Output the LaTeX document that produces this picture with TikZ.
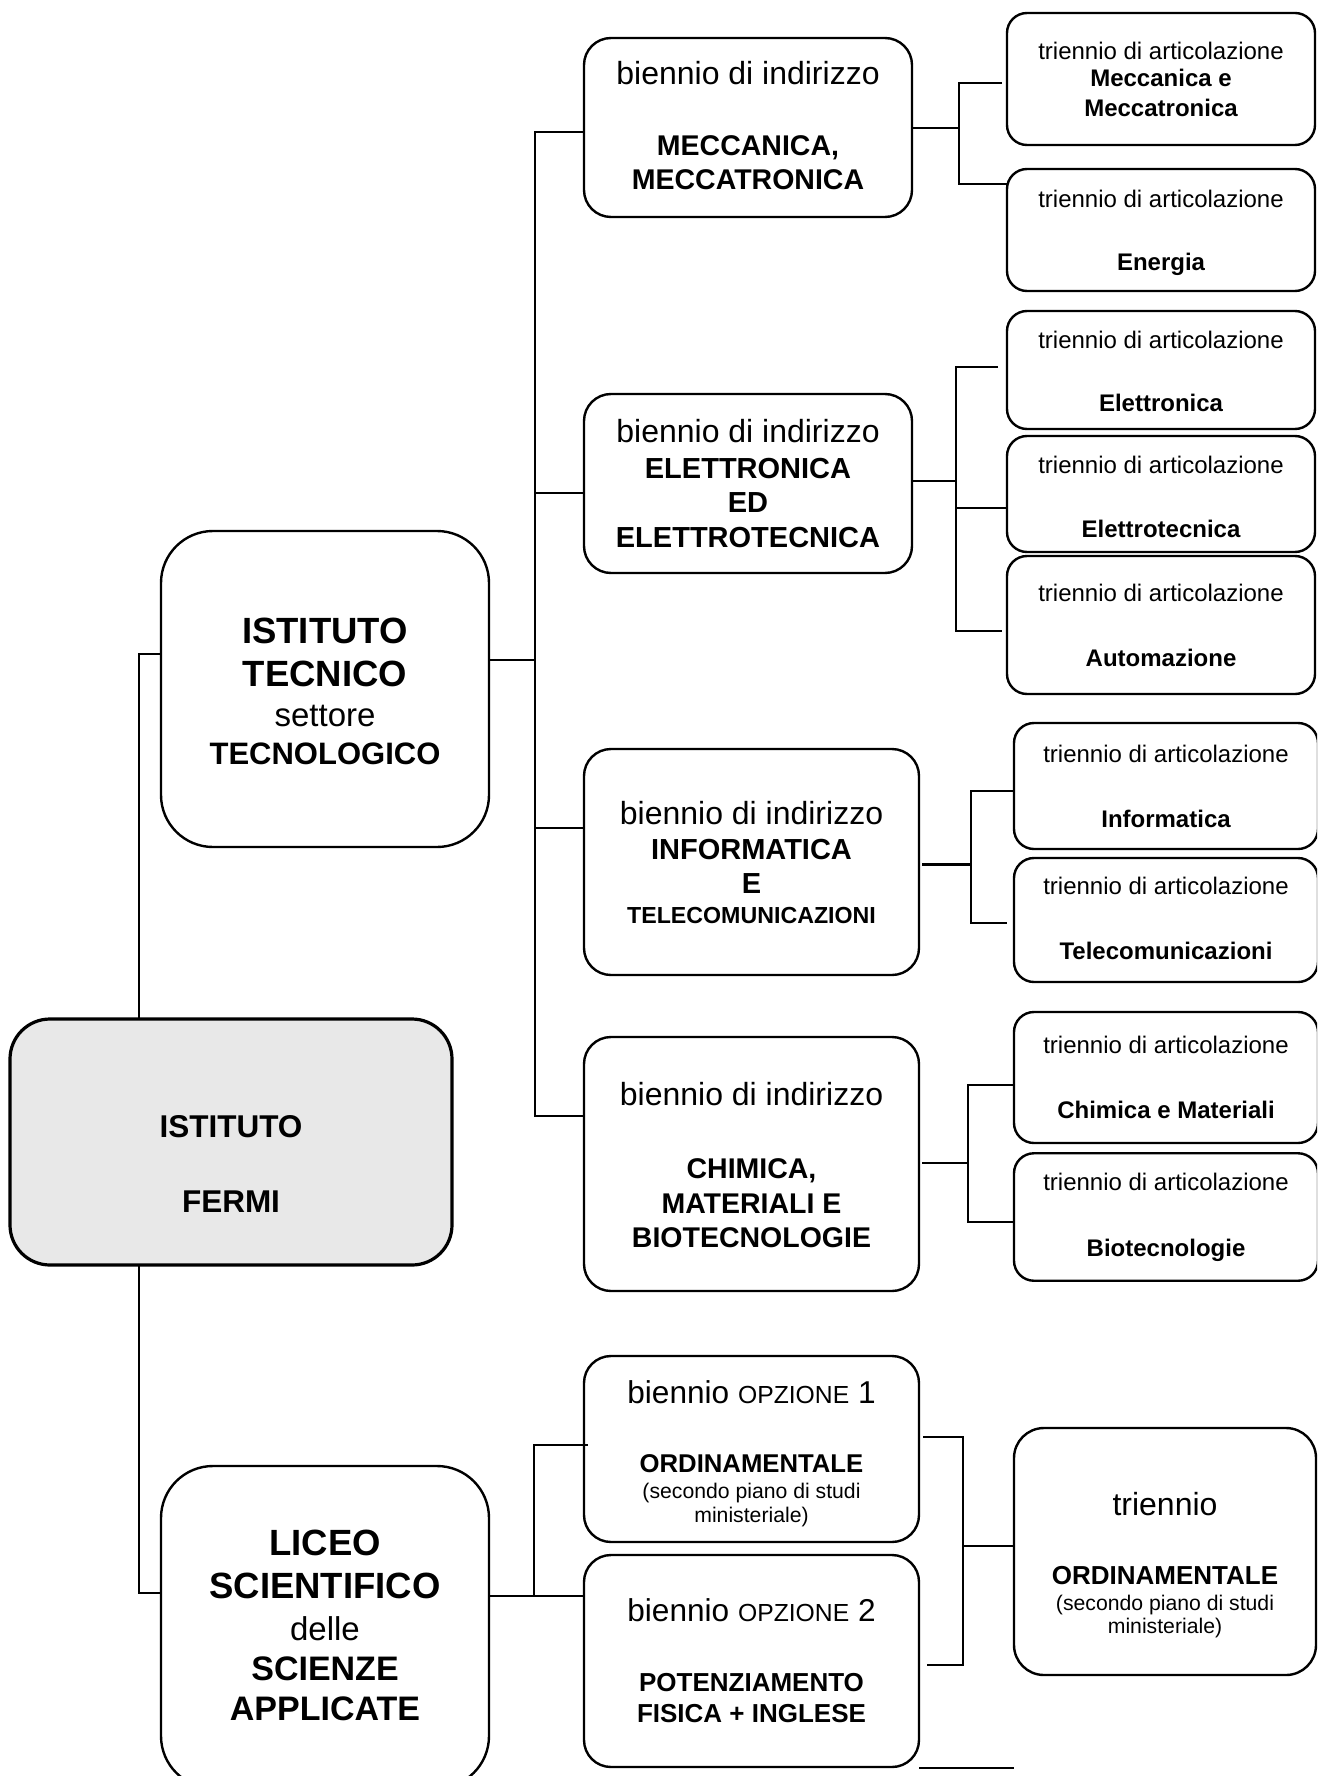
\documentclass[tikz,border=0pt]{standalone}
\usepackage{fontspec}
\setmainfont{Liberation Sans}
\newcommand{\fs}[1]{\fontsize{#1}{0pt}\selectfont}
% box text: width, height, first-baseline offset from top, content
\newcommand{\btxt}[4]{\parbox[t][#2pt][t]{#1pt}{\centering\baselineskip=0pt\lineskiplimit=-\maxdimen\leavevmode\rule{0pt}{#3pt}#4}}
\definecolor{fermifill}{RGB}{232,232,232}
\tikzset{
  box/.style={draw, line width=2.4pt, rounded corners=#1, inner sep=0pt, outer sep=0pt},
  conn/.style={line width=2pt},
}
\begin{document}
\begin{tikzpicture}[x=1pt,y=-1pt]
\fill[white] (0,0) rectangle (1317,1776);
\path[use as bounding box] (0,0) rectangle (1317,1776);
\clip (0,0) rectangle (1317,1776);

% main nodes
\node[box=40pt, fill=fermifill, line width=3.2pt] (fermi) at (231,1142)
  {\btxt{442}{246}{118}{\bfseries\fs{31.5}ISTITUTO\\[75pt]FERMI}};
\node[box=52pt] (it) at (325,689)
  {\btxt{328}{316}{112}{\bfseries\fs{36.5}ISTITUTO\\[43pt]TECNICO\\[40pt]{\mdseries\fs{33}settore}\\[38pt]\fs{31}TECNOLOGICO}};
\node[box=52pt] (ls) at (325,1627)
  {\btxt{328}{322}{89}{\bfseries\fs{36.5}LICEO\\[43pt]SCIENTIFICO\\[42pt]{\mdseries\fs{33}delle}\\[40pt]\fs{34}SCIENZE\\[40pt]APPLICATE}};

% bienni
\node[box=27pt] (mecc) at (748,127.5)
  {\btxt{328}{179}{47}{\fs{32}biennio di indirizzo\\[71pt]\bfseries\fs{28.5}MECCANICA,\\[34pt]MECCATRONICA}};
\node[box=27pt] (elettr) at (748,483.5)
  {\btxt{328}{179}{48}{\fs{32}biennio di indirizzo\\[36pt]\bfseries\fs{29}ELETTRONICA\\[34pt]ED\\[35pt]ELETTROTECNICA}};
\node[box=27pt] (info) at (751.5,862)
  {\btxt{335}{226}{75}{\fs{32}biennio di indirizzo\\[35pt]\bfseries\fs{29}INFORMATICA\\[34pt]E\\[30pt]\fs{23.2}TELECOMUNICAZIONI}};
\node[box=27pt] (chim) at (751.5,1164)
  {\btxt{335}{254}{68}{\fs{32}biennio di indirizzo\\[73pt]\bfseries\fs{28.5}CHIMICA,\\[35pt]MATERIALI E\\[34pt]BIOTECNOLOGIE}};
\node[box=27pt] (opz1) at (751.5,1449)
  {\btxt{335}{186}{47}{\fs{31.6}biennio {\fs{24.7}OPZIONE} 1\\[69pt]{\bfseries\fs{25.7}ORDINAMENTALE}\\[26pt]\fs{21.2}(secondo piano di studi\\[24pt]ministeriale)}};
\node[box=27pt] (opz2) at (751.5,1661)
  {\btxt{335}{212}{66}{\fs{31.6}biennio {\fs{24.7}OPZIONE} 2\\[70pt]\bfseries\fs{26}POTENZIAMENTO\\[31pt]FISICA + INGLESE}};

% trienni
\node[box=30pt] (trord) at (1165,1551.5)
  {\btxt{302}{247}{87}{\fs{32}triennio\\[69pt]{\bfseries\fs{26}ORDINAMENTALE}\\[26pt]\fs{21.2}(secondo piano di studi\\[23pt]ministeriale)}};
\node[box=20pt] (t1) at (1161,79)
  {\btxt{308}{132}{46.5}{\fs{24}triennio di articolazione\\[27.5pt]\bfseries Meccanica e\\[29.5pt]Meccatronica}};
\node[box=20pt] (t2) at (1161,230)
  {\btxt{308}{122}{38.6}{\fs{24}triennio di articolazione\\[63pt]\bfseries Energia}};
\node[box=20pt] (t3) at (1161,370)
  {\btxt{308}{118}{37}{\fs{24}triennio di articolazione\\[63.6pt]\bfseries Elettronica}};
\node[box=20pt] (t4) at (1161,494)
  {\btxt{308}{116}{37}{\fs{24}triennio di articolazione\\[64pt]\bfseries Elettrotecnica}};
\node[box=20pt] (t5) at (1161,625)
  {\btxt{308}{138}{45}{\fs{24}triennio di articolazione\\[65pt]\bfseries Automazione}};
\node[box=20pt] (t6) at (1166,786)
  {\btxt{304}{126}{39}{\fs{24}triennio di articolazione\\[65pt]\bfseries Informatica}};
\node[box=20pt] (t7) at (1166,920)
  {\btxt{304}{124}{36.5}{\fs{24}triennio di articolazione\\[65pt]\bfseries Telecomunicazioni}};
\node[box=20pt] (t8) at (1166,1077.5)
  {\btxt{304}{131}{41}{\fs{24}triennio di articolazione\\[65pt]\bfseries Chimica e Materiali}};
\node[box=20pt] (t9) at (1166,1217)
  {\btxt{304}{127.5}{37}{\fs{24}triennio di articolazione\\[66pt]\bfseries Biotecnologie}};

% junction coordinates
\coordinate (fa) at (139,654);
\coordinate (fb) at (139,1593);
\coordinate (ta) at (535,132);
\coordinate (tb) at (535,493);
\coordinate (tc) at (535,660);
\coordinate (td) at (535,828);
\coordinate (te) at (535,1116);
\coordinate (ma) at (959,83);
\coordinate (mb) at (959,128);
\coordinate (mc) at (959,184);
\coordinate (ea) at (956,367);
\coordinate (eb) at (956,481);
\coordinate (ec) at (956,508);
\coordinate (ed) at (956,631);
\coordinate (ia) at (971,791);
\coordinate (ib) at (971,864.6);
\coordinate (ic) at (971,923);
\coordinate (ca) at (968,1085);
\coordinate (cb) at (968,1163);
\coordinate (cc) at (968,1222);
\coordinate (la) at (534,1445);
\coordinate (lb) at (534,1596);
\coordinate (ba) at (963,1437);
\coordinate (bb) at (963,1546);
\coordinate (bc) at (963,1665);
\coordinate (sa) at (919,1768);

% connectors
\draw[conn] (fermi.north -| fa) -- (fa) -- (it.west |- fa);
\draw[conn] (fermi.south -| fb) -- (fb) -- (ls.west |- fb);

\draw[conn] (mecc.west |- ta) -- (ta) -- (te) -- (chim.west |- te);
\draw[conn] (it.east |- tc) -- (tc);
\draw[conn] (tb) -- (elettr.west |- tb);
\draw[conn] (td) -- (info.west |- td);

\draw[conn, line width=2.6pt] (mecc.east |- mb) -- (mb);
\draw[conn, shorten <=5pt] (t1.west |- ma) -- (ma) -- (mc) -- (t2.west |- mc);

\draw[conn] (elettr.east |- eb) -- (eb);
\draw[conn, shorten <=9pt, shorten >=5pt] (t3.west |- ea) -- (ea) -- (ed) -- (t5.west |- ed);
\draw[conn] (ec) -- (t4.west |- ec);

\draw[conn, line width=2.6pt, shorten <=3pt] (info.east |- ib) -- (ib);
\draw[conn, shorten >=7pt] (t6.west |- ia) -- (ia) -- (ic) -- (t7.west |- ic);

\draw[conn, shorten <=3pt] (chim.east |- cb) -- (cb);
\draw[conn] (t8.west |- ca) -- (ca) -- (cc) -- (t9.west |- cc);

\draw[conn] (ls.east |- lb) -- (lb) -- (opz2.west |- lb);
\draw[conn, shorten >=-4pt] (lb) -- (la) -- (opz1.west |- la);

\draw[conn, shorten <=4pt, shorten >=8pt] (opz1.east |- ba) -- (ba) -- (bc) -- (opz2.east |- bc);
\draw[conn] (bb) -- (trord.west |- bb);
\draw[conn, line width=2.6pt] (opz2.east |- sa) -- (trord.west |- sa);
\end{tikzpicture}
\end{document}
